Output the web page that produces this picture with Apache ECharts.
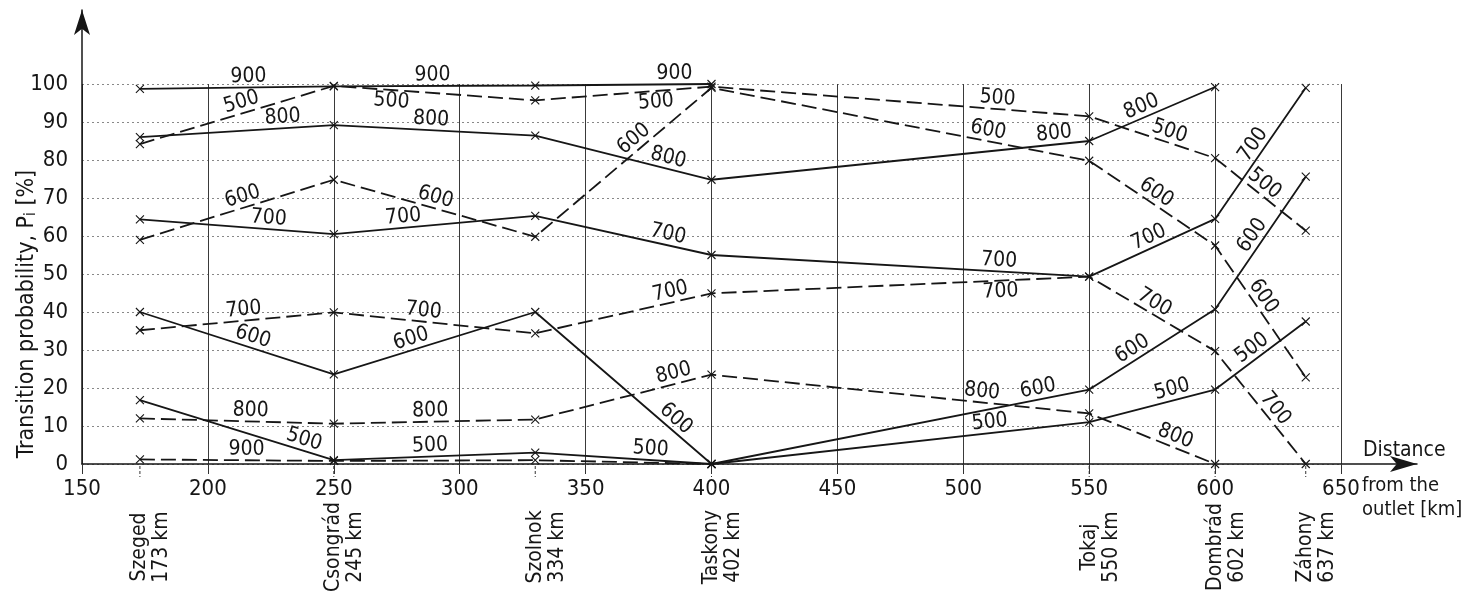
<!DOCTYPE html>
<html><head><meta charset="utf-8">
<script src="https://cdn.jsdelivr.net/npm/echarts@6/dist/echarts.min.js"></script>
<style>html,body{margin:0;padding:0;background:#fff}#c{width:1462px;height:594px}</style>
</head><body><div id="c"></div>
<script>
// ---------- data ----------
const stationKm    = [173, 250, 330, 400, 550, 600, 636];          // position on the distance axis
const stationNames = ['Szeged', 'Csongrád', 'Szolnok', 'Taskony', 'Tokaj', 'Dombrád', 'Záhony'];
const stationDist  = ['173 km', '245 km', '334 km', '402 km', '550 km', '602 km', '637 km'];
const xTickValues  = [150, 200, 250, 300, 350, 400, 450, 500, 550, 600, 650];
const yTickValues  = [0, 10, 20, 30, 40, 50, 60, 70, 80, 90, 100];

// solid curves (P_i in %)
const solid900 = [98.7, 99.4, 99.6, 100.0];
const solid800 = [86.0, 89.2, 86.4, 74.8, 85.0, 99.2];
const solid700 = [64.4, 60.5, 65.3, 55.0, 49.3, 64.5, 99.0];
const solid600 = [40.0, 23.6, 40.0, 0.0, 19.6, 40.7, 75.6];
const solid500 = [16.8, 1.0, 3.0, 0.0, 11.0, 19.6, 37.5];
// dashed curves (P_i in %)
const dashed500 = [84.2, 99.5, 95.7, 99.3, 91.5, 80.5, 61.4];
const dashed600 = [59.0, 74.8, 59.8, 99.0, 79.8, 57.5, 22.8];
const dashed700 = [35.2, 39.9, 34.4, 44.9, 49.3, 29.7, 0.0];
const dashed800 = [12.0, 10.6, 11.7, 23.5, 13.3, 0.0];
const dashed900 = [1.2, 0.8, 1.0, 0.0];

const curves = [
  {label: '900', dashed: false, values: solid900},
  {label: '800', dashed: false, values: solid800},
  {label: '700', dashed: false, values: solid700},
  {label: '600', dashed: false, values: solid600},
  {label: '500', dashed: false, values: solid500},
  {label: '500', dashed: true,  values: dashed500},
  {label: '600', dashed: true,  values: dashed600},
  {label: '700', dashed: true,  values: dashed700},
  {label: '800', dashed: true,  values: dashed800},
  {label: '900', dashed: true,  values: dashed900}
];

// ---------- label layout (fraction along segment, side: 1 above / -1 below) ----------
const labelLayout = [
  [[0.56,1],[0.49,1],[0.79,1]],
  [[0.74,1],[0.48,1],[0.74,1],[0.91,1],[0.45,1]],
  [[0.66,1],[0.35,1],[0.74,1],[0.76,1],[0.51,1],[0.52,1]],
  [[0.565,1],[0.40,1],[0.757,1],[0.87,1],[0.39,1],[0.51,1]],
  [[0.83,1],[0.48,1],[0.65,1],[0.74,1],[0.68,1],[0.48,1]],
  [[0.54,1],[0.29,-1],[0.68,-1],[0.755,1],[0.61,1],[0.47,1]],
  [[0.547,1],[0.49,1],[0.60,1],[0.727,1],[0.484,1],[0.433,1]],
  [[0.54,1],[0.44,1],[0.78,1],[0.764,-1],[0.474,1],[0.569,1]],
  [[0.57,1],[0.48,1],[0.80,1],[0.713,1],[0.652,1]],
  [[0.55,1],null,null]
];

const FONT = '"Liberation Sans Narrow","DejaVu Sans Condensed","Open Sans",sans-serif';
const INK = '#161616';
const XMARK = 'path://M0,0L10,10M10,0L0,10';

const labelItems = [];
curves.forEach((c, ci) => {
  for (let s = 0; s < c.values.length - 1; s++) {
    const lay = labelLayout[ci][s];
    if (!lay) continue;
    labelItems.push({x1: stationKm[s], y1: c.values[s], x2: stationKm[s+1], y2: c.values[s+1],
                     t: lay[0], side: lay[1], text: c.label});
  }
});

const lineSeries = curves.map(c => ({
  type: 'line', xAxisIndex: 0, yAxisIndex: 0,
  data: c.values.map((v, i) => [stationKm[i], v]),
  symbol: XMARK, symbolSize: 8, showAllSymbol: true, clip: false, z: 3,
  lineStyle: {color: INK, width: 1.8, type: c.dashed ? [15, 6] : 'solid'},
  itemStyle: {color: INK, borderColor: INK, borderWidth: 1.1},
  silent: true
}));

const labelSeries = {
  type: 'custom', xAxisIndex: 0, yAxisIndex: 0, clip: false, z: 5, silent: true,
  data: labelItems.map((it, i) => [it.x1, it.y1]),
  renderItem: function (params, api) {
    const it = labelItems[params.dataIndex];
    const a = api.coord([it.x1, it.y1]);
    const b = api.coord([it.x2, it.y2]);
    const dx = b[0] - a[0], dy = b[1] - a[1];
    const len = Math.sqrt(dx * dx + dy * dy);
    const nx = dy / len, ny = -dx / len;
    const off = 11 * it.side;
    const px = a[0] + dx * it.t + nx * off;
    const py = a[1] + dy * it.t + ny * off;
    return {
      type: 'text', x: px, y: py, rotation: Math.atan2(-dy, dx),
      style: {text: it.text, fill: INK, font: '21px ' + FONT, align: 'center', verticalAlign: 'middle'}
    };
  }
};

const stationSeries = {
  type: 'custom', xAxisIndex: 0, yAxisIndex: 0, clip: false, z: 5, silent: true,
  data: stationKm.map(k => [k, 0]),
  renderItem: function (params, api) {
    const i = params.dataIndex;
    const p = api.coord([api.value(0), 0]);
    return {
      type: 'group',
      children: [
        {type: 'line', shape: {x1: p[0], y1: p[1] + 2, x2: p[0], y2: p[1] + 13},
         style: {stroke: '#333', lineWidth: 1, lineDash: [3, 2]}},
        {type: 'text', x: p[0] + 11, y: p[1] + 83, rotation: Math.PI / 2,
         style: {text: stationNames[i] + '\n' + stationDist[i], fill: INK, font: '21px ' + FONT,
                 align: 'center', verticalAlign: 'middle', lineHeight: 22}}
      ]
    };
  }
};

const chart = echarts.init(document.getElementById('c'));
chart.setOption({
  animation: false,
  backgroundColor: '#fff',
  grid: [
    {left: 82, right: 121, top: 84, bottom: 130, containLabel: false, outerBoundsMode: 'none'},
    {left: 82, right: 45, top: 10, bottom: 130, containLabel: false, outerBoundsMode: 'none'}
  ],
  xAxis: [
    {gridIndex: 0, type: 'value', min: xTickValues[0], max: xTickValues[xTickValues.length - 1],
     interval: xTickValues[1] - xTickValues[0],
     axisLine: {show: false},
     axisTick: {show: true, length: 10, lineStyle: {color: '#333', width: 1}},
     axisLabel: {fontFamily: FONT, fontSize: 22, color: INK, margin: 14},
     splitLine: {show: true, lineStyle: {color: '#3a3a3a', width: 1}},
     name: 'from the\noutlet [km]', nameLocation: 'end', nameGap: 21, nameMoveOverlap: false,
     nameTextStyle: {fontFamily: FONT, fontSize: 20, color: INK, align: 'left', verticalAlign: 'top',
                     lineHeight: 24, padding: [10, 0, 0, 0]}},
    {gridIndex: 1, type: 'value', min: 0, max: 1,
     axisLine: {show: true, symbol: ['none', 'arrow'], symbolSize: [12, 27], lineStyle: {color: INK, width: 1.5}},
     axisTick: {show: false}, axisLabel: {show: false}, splitLine: {show: false},
     name: 'Distance', nameLocation: 'end', nameGap: -54, nameMoveOverlap: false,
     nameTextStyle: {fontFamily: FONT, fontSize: 21, color: INK, align: 'left', verticalAlign: 'bottom',
                     padding: [0, 0, 3, 0]}}
  ],
  yAxis: [
    {gridIndex: 0, type: 'value', min: yTickValues[0], max: yTickValues[yTickValues.length - 1],
     interval: yTickValues[1] - yTickValues[0],
     axisLine: {show: false}, axisTick: {show: false},
     axisLabel: {fontFamily: FONT, fontSize: 22, color: INK, margin: 14},
     splitLine: {show: true, lineStyle: {color: '#888', width: 1, type: [2, 3]}},
     name: '{t|Transition probability, P}{s|i}{t| [%]}', nameLocation: 'middle', nameGap: 43,
     nameMoveOverlap: false,
     nameTextStyle: {padding: [0, 80, 0, 0],
       rich: {t: {fontFamily: FONT, fontSize: 23, color: INK},
              s: {fontFamily: FONT, fontSize: 15, color: INK, verticalAlign: 'bottom'}}}},
    {gridIndex: 1, type: 'value', min: 0, max: 1,
     axisLine: {show: true, symbol: ['none', 'arrow'], symbolSize: [12, 25], lineStyle: {color: INK, width: 1.5}},
     axisTick: {show: false}, axisLabel: {show: false}, splitLine: {show: false}}
  ],
  series: lineSeries.concat([labelSeries, stationSeries])
});
</script>
</body></html>
